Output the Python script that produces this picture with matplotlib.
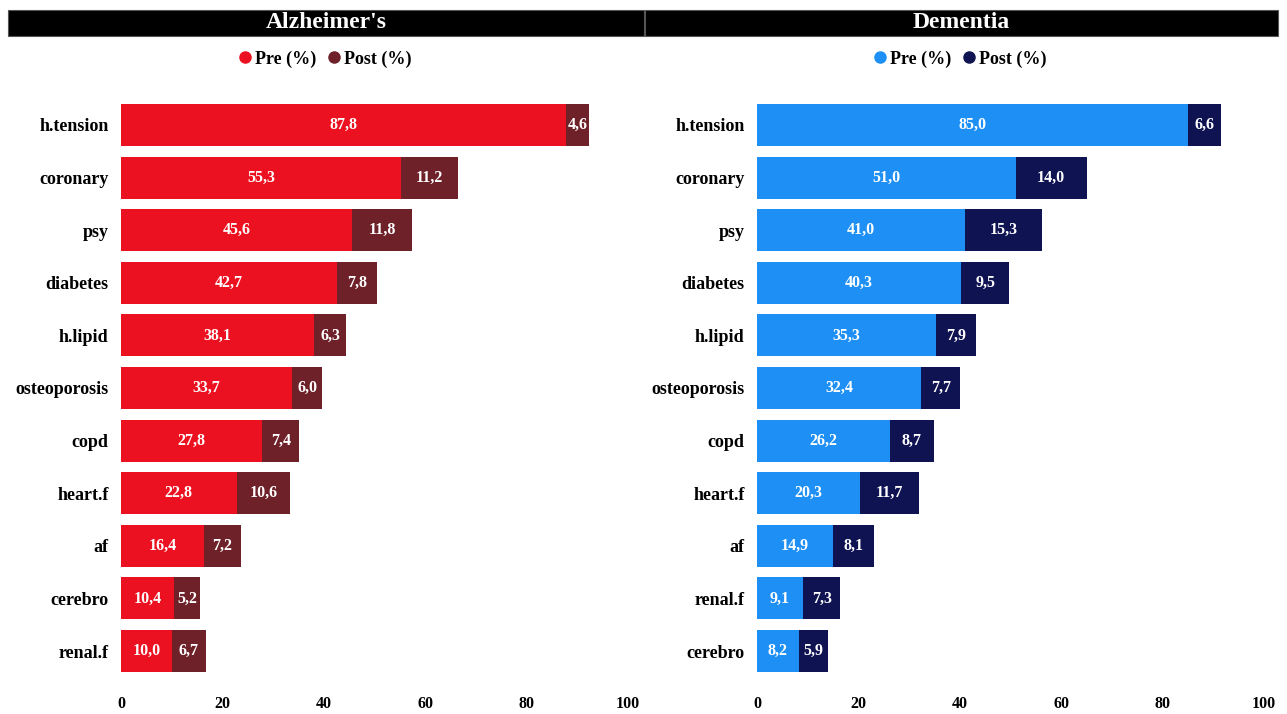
import matplotlib
matplotlib.use("Agg")
import matplotlib.pyplot as plt
from matplotlib.patches import Rectangle
from matplotlib.lines import Line2D

plt.rcParams['font.family'] = ['Liberation Serif', 'DejaVu Serif']
plt.rcParams['font.weight'] = 'bold'

# Alzheimer's panel data
alz_cats = ['h.tension', 'coronary', 'psy', 'diabetes', 'h.lipid', 'osteoporosis',
            'copd', 'heart.f', 'af', 'cerebro', 'renal.f']
alz_pre = [87.8, 55.3, 45.6, 42.7, 38.1, 33.7, 27.8, 22.8, 16.4, 10.4, 10.0]
alz_post = [4.6, 11.2, 11.8, 7.8, 6.3, 6.0, 7.4, 10.6, 7.2, 5.2, 6.7]

# Dementia panel data
dem_cats = ['h.tension', 'coronary', 'psy', 'diabetes', 'h.lipid', 'osteoporosis',
            'copd', 'heart.f', 'af', 'renal.f', 'cerebro']
dem_pre = [85.0, 51.0, 41.0, 40.3, 35.3, 32.4, 26.2, 20.3, 14.9, 9.1, 8.2]
dem_post = [6.6, 14.0, 15.3, 9.5, 7.9, 7.7, 8.7, 11.7, 8.1, 7.3, 5.9]

x_ticks = [0, 20, 40, 60, 80, 100]

W, H = 1287, 714
fig = plt.figure(figsize=(W / 100, H / 100), dpi=100)


def fmt(v):
    return f"{v:.1f}".replace('.', ',')


def panel(left_px, cats, pre, post, c_pre, c_post, title, bar_x0, bar_x1, legend_x):
    ax = fig.add_axes([left_px / W, 0.044, 507 / W, 0.8252])
    y = list(range(len(cats)))
    ax.barh(y, pre, height=0.8, color=c_pre)
    ax.barh(y, post, left=pre, height=0.8, color=c_post)
    for i in y:
        ax.text(pre[i] / 2, i, fmt(pre[i]), ha='center', va='center',
                color='white', fontsize=11.5, fontweight='bold')
        ax.text(pre[i] + post[i] / 2, i, fmt(post[i]), ha='center', va='center',
                color='white', fontsize=11.5, fontweight='bold')
    ax.set_xlim(0, 100)
    ax.set_ylim(len(cats) - 0.4, -0.6)
    ax.set_yticks(y)
    ax.set_yticklabels(cats, fontsize=13, fontweight='bold')
    ax.set_xticks(x_ticks)
    ax.set_xticklabels([str(t) for t in x_ticks], fontsize=11.5, fontweight='bold')
    ax.tick_params(length=0)
    ax.tick_params(axis='y', pad=9)
    ax.tick_params(axis='x', pad=10)
    for s in ax.spines.values():
        s.set_visible(False)

    # black title bar
    fig.patches.append(Rectangle((bar_x0 / W, 1 - 36 / H), (bar_x1 - bar_x0) / W, 26 / H,
                                 transform=fig.transFigure, facecolor='black',
                                 edgecolor='#555555', linewidth=0.8))
    fig.text((bar_x0 + bar_x1) / 2 / W, 1 - 23 / H, title, ha='center', va='center',
             color='white', fontsize=17, fontweight='bold')

    handles = [Line2D([], [], marker='o', linestyle='', color=c_pre, markersize=8),
               Line2D([], [], marker='o', linestyle='', color=c_post, markersize=8)]
    fig.legend(handles, ['Pre (%)', 'Post (%)'], loc='center',
               bbox_to_anchor=(legend_x / W, 1 - 59 / H), ncol=2, frameon=False,
               handletextpad=0.05, columnspacing=0.5, handlelength=1.0,
               prop={'weight': 'bold', 'size': 13})


panel(121, alz_cats, alz_pre, alz_post, '#EC1120', '#6E2129', "Alzheimer's", 8, 644, 324)
panel(757, dem_cats, dem_pre, dem_post, '#1E90F5', '#0F1352', "Dementia", 645, 1278, 959)

fig.savefig('out.png', dpi=100)
